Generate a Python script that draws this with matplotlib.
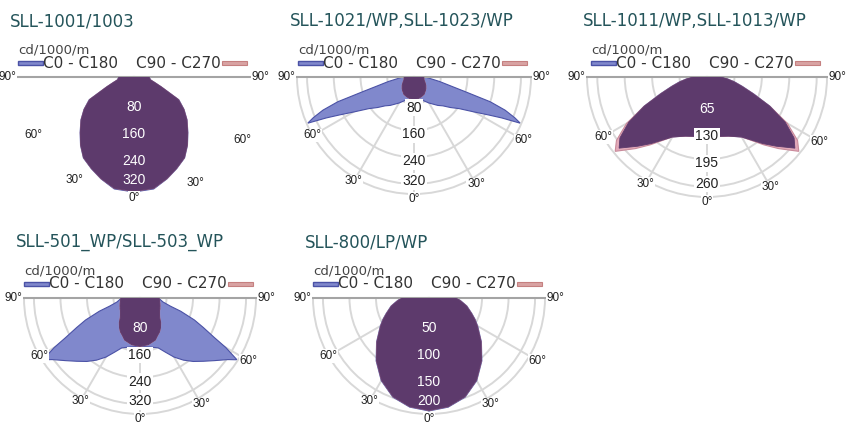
import numpy as np
import matplotlib
matplotlib.use('Agg')
import matplotlib.pyplot as plt
from matplotlib.patches import Rectangle

# data ------------------------------------------------------------------------

titles = ['SLL-1001/1003', 'SLL-1021/WP,SLL-1023/WP', 'SLL-1011/WP,SLL-1013/WP',
          'SLL-501_WP/SLL-503_WP', 'SLL-800/LP/WP']

# gamma angles (deg, one side, mirrored) and intensities in cd/1000lm
p1_theta = [0, 10, 18, 25, 32, 38, 44, 51, 57, 63, 70, 75, 80, 85, 90]
p1_c0 = [347, 343, 323, 305, 288, 262, 234, 206, 180, 152, 88, 65, 51, 48, 47]
p1_c90 = [345, 341, 322, 304, 287, 261, 233, 205, 179, 150, 87, 64, 50, 47, 46]
p1_rings = [80, 160, 240, 320]

p2_theta = [0, 10, 20, 30, 40, 45, 50, 55, 60, 63, 65, 66.5, 68, 70, 72, 74, 76, 80, 85, 90]
p2_c0 = [67, 70, 74, 90, 111, 122, 142, 165, 210, 250, 290, 347, 325, 290, 240, 160, 118, 78, 47, 33]
p2_c90 = [67, 66, 63, 60, 53, 50, 46, 43, 39, 37, 36, 35, 34, 33, 32, 31, 31, 30, 30, 29]
p2_rings = [80, 160, 240, 320]

p3_theta = [0, 10, 20, 30, 40, 45, 51, 55, 60, 65, 70, 75, 80, 85, 90]
p3_c0 = [140, 143, 149, 164, 206, 232, 268, 252, 214, 165, 118, 87, 66, 48, 36]
p3_c90 = [140, 143, 149, 164, 210, 240, 280, 262, 220, 164, 116, 85, 64, 46, 34]
p3_rings = [65, 130, 195, 260]

p4_theta = [0, 10, 20, 25, 30, 35, 40, 45, 50, 55, 57.5, 60, 62, 65, 68, 72, 75, 80, 85, 90]
p4_c0 = [146, 150, 160, 180, 206, 229, 250, 270, 294, 324, 347, 299, 254, 211, 177, 129, 95, 71, 62, 60]
p4_c90 = [146, 143, 135, 125, 118, 108, 97, 84, 77, 72, 70, 69, 68, 66, 65, 63, 62, 60, 59, 58]
p4_rings = [80, 160, 240, 320]

p5_theta = [0, 10, 20, 30, 40, 50, 60, 65, 70, 78, 85, 90]
p5_c0 = [213, 209, 199, 180, 155, 129, 106, 96, 86, 73, 60, 52]
p5_c90 = [212, 208, 198, 179, 154, 128, 105, 95, 85, 72, 59, 51]
p5_rings = [50, 100, 150, 200]

angle_labels = [-90, -60, -30, 0, 30, 60, 90]

# layout ----------------------------------------------------------------------

W, H = 853, 424
# centre x, centre y, radius in pixels, draw grid
layout = [(134, 77, 116, False), (414, 77, 117, True), (707, 77, 120, True),
          (140, 298, 116, True), (429, 298, 116, True)]

BLUE = '#8088cc'
BLUE_EDGE = '#4b52a6'
PINK = '#e2a9b9'
PINK_EDGE = '#c98a9a'
OVERLAP = '#5d3a6c'
TITLE_COLOR = '#24545a'
GRID = '#d8d8d8'

plt.rcParams['font.family'] = ['DejaVu Sans']

fig = plt.figure(figsize=(W / 100, H / 100), dpi=100)


def fx(px):
    return px / W


def fy(py):
    return 1 - py / H


def mirror(theta, vals):
    th = np.radians(np.concatenate((-np.array(theta[::-1]), np.array(theta[1:]))))
    r = np.concatenate((np.array(vals[::-1]), np.array(vals[1:])))
    return th, r


data = [(p1_theta, p1_c0, p1_c90, p1_rings),
        (p2_theta, p2_c0, p2_c90, p2_rings),
        (p3_theta, p3_c0, p3_c90, p3_rings),
        (p4_theta, p4_c0, p4_c90, p4_rings),
        (p5_theta, p5_c0, p5_c90, p5_rings)]

for title, (theta, c0, c90, rings), (cx, cy, R, grid) in zip(titles, data, layout):
    rmax = rings[-1] * 1.094
    step = rings[1] - rings[0]

    # the half disc is centred inside a square box
    ax = fig.add_axes([fx(cx - R), fy(cy + 1.5 * R), 2 * R / W, 2 * R / H],
                      projection='polar')
    ax.set_theta_zero_location('S')
    ax.set_thetamin(-90)
    ax.set_thetamax(90)
    ax.set_rlim(0, rmax)
    ax.set_rticks(rings)
    ax.set_yticklabels([])
    ax.set_xticks(np.radians([-60, -30, 0, 30, 60]))
    ax.set_xticklabels([])
    if grid:
        ax.grid(color=GRID, lw=1.4)
        ax.spines['polar'].set_color(GRID)
        ax.spines['polar'].set_linewidth(1.4)
    else:
        ax.grid(False)
        ax.spines['polar'].set_visible(False)
    for s in ['start', 'end']:
        ax.spines[s].set_color('#a4a4a4')
        ax.spines[s].set_linewidth(1.5)
    ax.spines['inner'].set_visible(False)

    th, r0 = mirror(theta, c0)
    _, r90 = mirror(theta, c90)
    ax.fill(th, r0, facecolor=BLUE, edgecolor=BLUE_EDGE, lw=0.8, zorder=2)
    ax.fill(th, r90, facecolor=PINK, edgecolor=PINK_EDGE, lw=0.8, zorder=2)
    ax.fill(th, np.minimum(r0, r90), facecolor=OVERLAP, edgecolor=OVERLAP, lw=0.6, zorder=3)

    # ring labels along the 0 deg axis
    core = min(c0[0], c90[0])
    for i, v in enumerate(rings):
        rl = v - 0.1 * step if i == len(rings) - 1 else v + 0.15 * step
        inside = rl + 0.03 * rmax < core
        if inside:
            ax.text(0, rl, str(v), ha='center', va='center', fontsize=10,
                    family='Liberation Sans', color='white', zorder=5)
        else:
            ax.text(0, rl, str(v), ha='center', va='center', fontsize=10,
                    family='Liberation Sans', color='#222222', zorder=5,
                    bbox=dict(boxstyle='square,pad=0.1', fc='white', ec='none'))

    # angle labels
    for a in angle_labels:
        kw = dict(fontsize=8.5, family='Liberation Sans', color='#222222', zorder=6,
                  va='center', bbox=dict(boxstyle='square,pad=0.05', fc='white', ec='none'))
        if a == -90:
            ax.text(np.radians(a), rmax * 1.01, '90°', ha='right', **kw)
        elif a == 90:
            ax.text(np.radians(a), rmax * 1.01, '90°', ha='left', **kw)
        elif a == 0:
            ax.text(0, rmax * 1.04, '0°', ha='center', **kw)
        elif abs(a) == 60:
            ax.text(np.radians(a), rmax * (1.0 if a < 0 else 1.08), f'{abs(a)}°', ha='center', **kw)
        else:
            ax.text(np.radians(a), rmax * (1.03 if a < 0 else 1.06), f'{abs(a)}°', ha='center', **kw)

    # title and legend
    fig.text(fx(cx - 124), fy(cy - 56), title, fontsize=12, color=TITLE_COLOR,
             ha='left', va='center')
    fig.text(fx(cx - 116), fy(cy - 27), 'cd/1000/m', fontsize=9.5, color='#444444',
             ha='left', va='center')
    fig.add_artist(Rectangle((fx(cx - 116), fy(cy - 12)), 25 / W, 4 / H,
                             transform=fig.transFigure, fc=BLUE, ec=BLUE_EDGE, lw=1))
    fig.text(fx(cx - 91), fy(cy - 14), 'C0 - C180', fontsize=11, color='#333333',
             ha='left', va='center')
    fig.text(fx(cx + 87), fy(cy - 14), 'C90 - C270', fontsize=11, color='#333333',
             ha='right', va='center')
    fig.add_artist(Rectangle((fx(cx + 88), fy(cy - 12)), 25 / W, 4 / H,
                             transform=fig.transFigure, fc='#d9a3a3', ec='#c58080',
                             lw=0.8))

fig.savefig('out.png', dpi=100, facecolor='white')
